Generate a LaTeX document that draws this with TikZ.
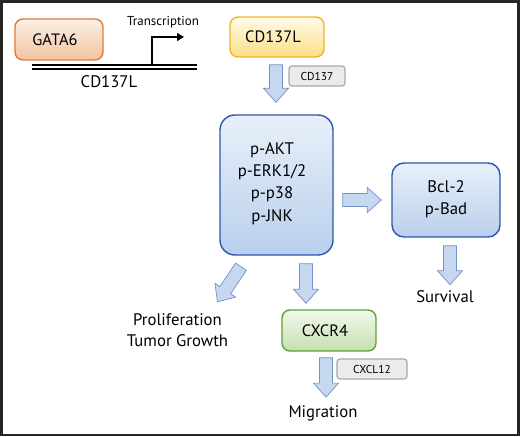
\documentclass[tikz,border=0pt]{standalone}
\usepackage{fontspec}
\setmainfont{PT Sans}
\usetikzlibrary{calc,arrows.meta}
\definecolor{gataB}{HTML}{E07B3A}
\definecolor{gataT}{HTML}{FCF0E6}
\definecolor{gataL}{HTML}{F2C3A0}
\definecolor{ligB}{HTML}{F0B429}
\definecolor{ligT}{HTML}{FFFBEA}
\definecolor{ligL}{HTML}{FBDF84}
\definecolor{bluB}{HTML}{2F55B0}
\definecolor{bluT}{HTML}{E8F0FA}
\definecolor{bluL}{HTML}{B9CFEC}
\definecolor{grnB}{HTML}{5DA23B}
\definecolor{grnT}{HTML}{F3F9EE}
\definecolor{grnL}{HTML}{C6DEAF}
\definecolor{lblB}{HTML}{A8A8A8}
\definecolor{lblF}{HTML}{EBEBEB}
\definecolor{arrF}{HTML}{C6D8F0}
\definecolor{arrD}{HTML}{7391C6}
\definecolor{frameC}{HTML}{262626}
\tikzset{
  box/.style={draw, line width=1.4bp, rounded corners=8bp, inner sep=0pt, text=black},
  gatabox/.style={box, draw=gataB, top color=gataT, bottom color=gataL},
  ligbox/.style={box, draw=ligB, top color=ligT, bottom color=ligL},
  blubox/.style={box, draw=bluB, top color=bluT, bottom color=bluL},
  grnbox/.style={box, draw=grnB, top color=grnT, bottom color=grnL},
  lblbox/.style={draw=lblB, fill=lblF, line width=1.2bp, rounded corners=3bp, inner sep=0pt,
     font=\fontsize{11.5}{13}\selectfont},
  boxfont/.style={font=\fontsize{16.5}{18}\selectfont},
  bigtxt/.style={font=\fontsize{16.8}{22.5}\selectfont, align=center, inner sep=0pt},
  plaintxt/.style={inner sep=0pt, font=\fontsize{16.8}{21}\selectfont, align=center},
  barrowstyle/.style={fill=arrF, draw=arrD, line width=0.7bp, line join=miter},
}
\newcommand{\barrow}[2]{%
  \coordinate (hh) at ($(#2)!14bp!(#1)$);
  \draw[barrowstyle] ($(#1)!6.5bp!90:(#2)$) -- ($(hh)!6.5bp!90:(#2)$) -- ($(hh)!12.5bp!90:(#2)$)
    -- (#2) -- ($(hh)!12.5bp!-90:(#2)$) -- ($(hh)!6.5bp!-90:(#2)$) -- ($(#1)!6.5bp!-90:(#2)$) -- cycle;}
\begin{document}
\begin{tikzpicture}[x=1bp,y=-1bp]
\useasboundingbox (0,0) rectangle (520,437);
\draw[frameC, line width=2.6bp] (1.3,1.3) rectangle (518.3,435);

% gene
\node[gatabox, boxfont, minimum width=88bp, minimum height=41bp] (gata) at (59,39.5) {GATA6\hspace*{8bp}};
\coordinate (dnaL) at (32,67);
\coordinate (dnaR) at (197,67);
\draw[line width=1.5bp] ([yshift=-2bp]dnaL) -- ([yshift=-2bp]dnaR);
\draw[line width=1.5bp] ([yshift=2bp]dnaL) -- ([yshift=2bp]dnaR);
\coordinate (prom) at (152,65);
\coordinate (promT) at (152,37);
\coordinate (promE) at (184,37);
\draw[line width=1.3bp, -{Triangle[length=7bp,width=8bp]}] (prom) -- (promT) -- (promE);
\node[inner sep=0pt, font=\fontsize{13}{15}\selectfont] (trans) at (163,22) {Transcription};
\node[plaintxt] (gene) at (109,82) {CD137L};

% ligand
\node[ligbox, boxfont, minimum width=94bp, minimum height=40bp] (lig) at (277,37) {CD137L\hspace*{8bp}};
\node[lblbox, minimum width=56bp, minimum height=20bp] (rec) at (317,76) {CD137};

% kinases
\node[blubox, rounded corners=15bp, minimum width=113bp, minimum height=140bp] (main) at (276.5,185) {};
\node[bigtxt] (kin) at (272,183.5) {p-AKT\\p-ERK1/2\\p-p38\\p-JNK};

\node[blubox, rounded corners=12bp, minimum width=108bp, minimum height=74bp] (bcl) at (446,200) {};
\node[bigtxt] (bcltxt) at (446,199) {Bcl-2\\p-Bad};

\node[grnbox, boxfont, minimum width=94bp, minimum height=41bp] (cxcr) at (329,330.5) {CXCR4\hspace*{8bp}};
\node[lblbox, minimum width=70bp, minimum height=20bp] (cxcl) at (372,369) {CXCL12};

\node[plaintxt] (surv) at (445,297) {Survival};
\node[plaintxt] (prolif) at (177.5,330.5) {Proliferation\\Tumor Growth};
\node[plaintxt] (migr) at (323,413) {Migration};

% block arrows
\coordinate (a1s) at ($(lig.south)+(-1,7)$);
\coordinate (a1e) at ($(main.north)+(-0.5,-12)$);
\barrow{a1s}{a1e}
\coordinate (a2s) at ($(main.south)+(29.5,8)$);
\coordinate (a2e) at ($(cxcr.north)+(-23,-6)$);
\barrow{a2s}{a2e}
\coordinate (a3s) at ($(main.east)+(9,15)$);
\coordinate (a3e) at ($(bcl.west)+(-10,0)$);
\barrow{a3s}{a3e}
\coordinate (a4s) at ($(bcl.south)+(4,8)$);
\coordinate (a4e) at ($(surv.north)+(5,-6)$);
\barrow{a4s}{a4e}
\coordinate (a5s) at ($(main.south)+(-35.5,11)$);
\coordinate (a5e) at ($(prolif.north)+(40,-12)$);
\barrow{a5s}{a5e}
\coordinate (a6s) at ($(cxcr.south)+(-3,6)$);
\coordinate (a6e) at ($(migr.north)+(3,-8)$);
\barrow{a6s}{a6e}
\end{tikzpicture}
\end{document}
